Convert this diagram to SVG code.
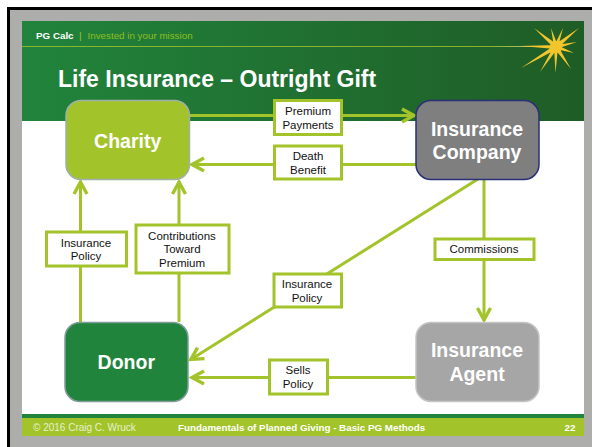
<svg xmlns="http://www.w3.org/2000/svg" width="592" height="447" viewBox="0 0 592 447">
<style>
text{font-family:"Liberation Sans",Arial,sans-serif;text-anchor:middle}
.s{text-anchor:start}
.c{fill:none;stroke:#a2c42a;stroke-width:3}
.l{fill:#fff;stroke:#a2c42a;stroke-width:3}
.lt{font-size:11.500px;fill:#111}
.nt{font-size:19.500px;font-weight:bold;fill:#fff}
</style>
<defs>
<linearGradient id="hdr" x1="0" y1="0" x2="1" y2="0"><stop offset="0" stop-color="#21843c"/><stop offset="1" stop-color="#1f5c26"/></linearGradient>
<linearGradient id="rule" x1="0" y1="0" x2="1" y2="0"><stop offset="0" stop-color="#a2c42a"/><stop offset="0.9" stop-color="#a2c42a"/><stop offset="1" stop-color="#e8e0a0"/></linearGradient>
<marker id="arr" markerUnits="userSpaceOnUse" markerWidth="18" markerHeight="18" refX="15" refY="9" orient="auto"><path d="M2 2.500L14 9L2 15.500" fill="none" stroke="#a2c42a" stroke-width="3.400"/></marker>
</defs>
<rect width="592" height="447" fill="#fff"/>
<rect x="8.500" y="8.500" width="590" height="445" fill="#adadab" stroke="#000" stroke-width="3"/>
<rect x="22" y="21" width="566" height="415" fill="#fff"/>
<rect x="22" y="21" width="566" height="100" fill="url(#hdr)"/>
<rect x="22" y="46" width="520" height="0.800" fill="url(#rule)"/>
<rect x="22" y="414" width="566" height="4" fill="#21843c"/>
<rect x="22" y="418" width="566" height="18" fill="#a2c42a"/>
<rect x="584" y="21" width="8" height="426" fill="#adadab"/>
<text class="s" x="36" y="39" font-size="9.800px" font-weight="bold" fill="#fff">PG Calc</text>
<text class="s" x="79" y="39" font-size="9.800px" fill="#a2c42a">|</text>
<text class="s" x="87.500" y="39" font-size="9.800px" fill="#8fbf1f">Invested in your mission</text>
<text class="s" x="58" y="87" font-size="23px" font-weight="bold" fill="#fff">Life Insurance – Outright Gift</text>
<g id="star" fill="#f3c52c">
<path d="M534 28L558 45L555 49ZM551 28L558 46L554 47ZM563 28L558 47L554 46ZM579 28L557 49L554 45ZM577 42L556 49L555 45ZM574 53L555 49L557 45ZM571 69L554 48L558 46ZM555.500 73L554 47L558 47ZM540 72L554 46L558 48ZM521 68L555 45L557 49ZM520 46L556 45L556 49Z"/>
<circle cx="556" cy="47" r="6"/>
</g>
<g id="connectors">
<path class="c" d="M189 115.500H415" marker-end="url(#arr)"/>
<path class="c" d="M416 164.500H191" marker-end="url(#arr)"/>
<path class="c" d="M80.500 322V181" marker-end="url(#arr)"/>
<path class="c" d="M179 322V181" marker-end="url(#arr)"/>
<path class="c" d="M484 180V321" marker-end="url(#arr)"/>
<path class="c" d="M478 179L190 360" marker-end="url(#arr)"/>
<path class="c" d="M416 377.500H191" marker-end="url(#arr)"/>
</g>
<g id="charity">
<rect x="66" y="100.500" width="123.500" height="79" rx="15" fill="#a2c42a" stroke="#9fb0a8" stroke-width="1.500"/>
<text class="nt" x="127.700" y="148">Charity</text>
</g>
<g id="insurance-company">
<rect x="416" y="100.500" width="123" height="79" rx="15" fill="#7f7f7f" stroke="#2a2f78" stroke-width="1.500"/>
<text class="nt" x="477" y="136">Insurance</text>
<text class="nt" x="477" y="159">Company</text>
</g>
<g id="donor">
<rect x="65" y="322.500" width="123" height="79" rx="15" fill="#21843c" stroke="#7f9c98" stroke-width="1.500"/>
<text class="nt" x="126.300" y="369">Donor</text>
</g>
<g id="insurance-agent">
<rect x="416" y="322.500" width="123" height="79" rx="15" fill="#a6a6a6" stroke="#c4c4c4" stroke-width="1.500"/>
<text class="nt" x="477" y="357">Insurance</text>
<text class="nt" x="477" y="381">Agent</text>
</g>
<g id="label-premium">
<rect class="l" x="274.500" y="100.500" width="67" height="34"/>
<text class="lt" x="308" y="115">Premium</text><text class="lt" x="308" y="129">Payments</text>
</g>
<g id="label-death">
<rect class="l" x="274.500" y="146" width="67" height="33"/>
<text class="lt" x="308" y="160">Death</text><text class="lt" x="308" y="174">Benefit</text>
</g>
<g id="label-policy-left">
<rect class="l" x="46.500" y="232" width="80" height="34"/>
<text class="lt" x="86" y="247">Insurance</text><text class="lt" x="86" y="260">Policy</text>
</g>
<g id="label-contributions">
<rect class="l" x="136" y="225" width="93" height="48"/>
<text class="lt" x="182" y="240">Contributions</text><text class="lt" x="182" y="253">Toward</text><text class="lt" x="182" y="267">Premium</text>
</g>
<g id="label-policy-mid">
<rect class="l" x="274" y="274" width="67.500" height="33"/>
<text class="lt" x="307" y="288">Insurance</text><text class="lt" x="307" y="302">Policy</text>
</g>
<g id="label-commissions">
<rect class="l" x="435" y="239" width="99" height="20.500"/>
<text class="lt" x="484" y="253">Commissions</text>
</g>
<g id="label-sells">
<rect class="l" x="269.500" y="360" width="58" height="34"/>
<text class="lt" x="298" y="374">Sells</text><text class="lt" x="298" y="388">Policy</text>
</g>
<g id="footer">
<text class="s" x="33" y="431" font-size="10px" fill="#e9efd0">© 2016 Craig C. Wruck</text>
<text class="s" x="178" y="431" font-size="9.800px" font-weight="bold" fill="#fff">Fundamentals of Planned Giving - Basic PG Methods</text>
<text x="570" y="431" font-size="9.800px" font-weight="bold" fill="#fff">22</text>
</g>
</svg>
